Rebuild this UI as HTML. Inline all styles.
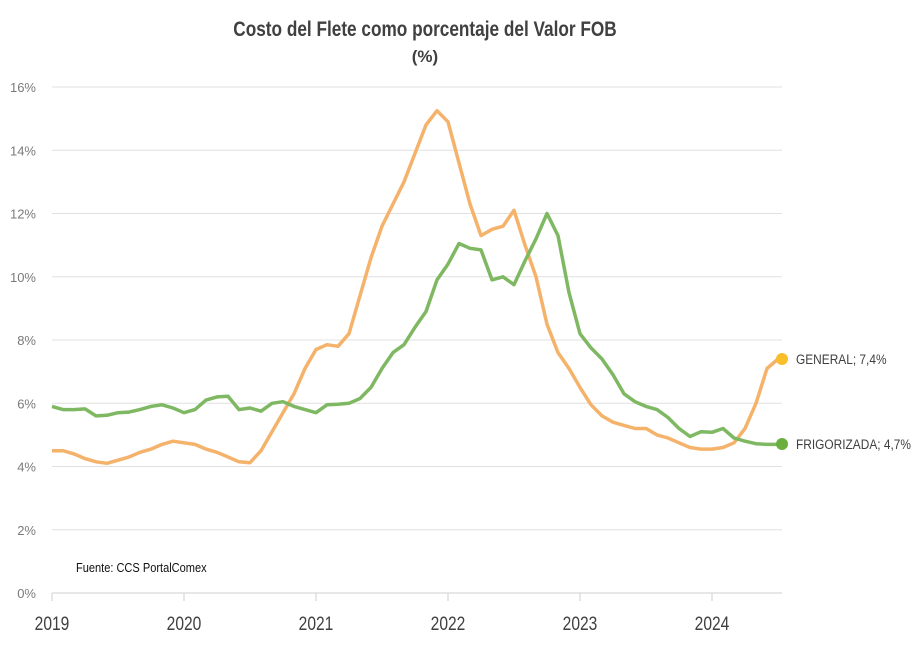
<!DOCTYPE html>
<html><head><meta charset="utf-8"><style>
body{margin:0;background:#fff;}
svg{display:block;font-family:"Liberation Sans",sans-serif;}
</style></head><body>
<svg id="s" width="921" height="654" viewBox="0 0 921 654" xmlns="http://www.w3.org/2000/svg">
<text x="425" y="36" text-anchor="middle" font-size="21" font-weight="bold" fill="#404040" transform="translate(425 0) scale(0.82 1) translate(-425 0)">Costo del Flete como porcentaje del Valor FOB</text>
<text x="425" y="62" text-anchor="middle" font-size="17" font-weight="bold" fill="#404040">(%)</text>
<g id="grid"></g>
<text x="76" y="572" font-size="13" fill="#111" transform="translate(76 0) scale(0.85 1) translate(-76 0)">Fuente: CCS PortalComex</text>
<polyline id="go" fill="none" stroke="#F4B26B" stroke-width="3.5" stroke-linejoin="round"/>
<polyline id="gg" fill="none" stroke="#7FB862" stroke-width="3.5" stroke-linejoin="round"/>
<circle cx="782" cy="359" r="6" fill="#F9BE2A"/>
<circle cx="782" cy="444" r="6" fill="#6AAF3D"/>
<text x="796" y="364" font-size="14" fill="#404040" transform="translate(796 0) scale(0.85 1) translate(-796 0)">GENERAL; 7,4%</text>
<text x="796" y="449" font-size="14" fill="#404040" transform="translate(796 0) scale(0.85 1) translate(-796 0)">FRIGORIZADA; 4,7%</text>
</svg>
<script>
var o=[4.5,4.5,4.4,4.25,4.15,4.1,4.2,4.3,4.45,4.55,4.7,4.8,4.75,4.7,4.55,4.45,4.3,4.15,4.12,4.5,5.1,5.7,6.3,7.1,7.7,7.85,7.8,8.2,9.4,10.6,11.6,12.3,13.0,13.9,14.8,15.25,14.9,13.6,12.3,11.3,11.5,11.6,12.1,11.0,10.0,8.5,7.6,7.1,6.5,5.95,5.6,5.4,5.3,5.2,5.2,5.0,4.9,4.75,4.6,4.55,4.55,4.6,4.75,5.2,6.0,7.1,7.4];
var g=[5.9,5.8,5.8,5.82,5.6,5.62,5.7,5.72,5.8,5.9,5.95,5.85,5.7,5.8,6.1,6.2,6.22,5.8,5.85,5.75,6.0,6.05,5.9,5.8,5.7,5.95,5.97,6.0,6.15,6.5,7.1,7.6,7.85,8.4,8.9,9.9,10.4,11.05,10.9,10.85,9.9,10.0,9.75,10.5,11.2,12.0,11.3,9.5,8.2,7.75,7.4,6.9,6.3,6.05,5.9,5.8,5.55,5.2,4.95,5.1,5.08,5.2,4.9,4.8,4.72,4.7,4.7];
function X(i){return 52+i*11;}function Y(v){return 593-v*31.625;}
function pts(a){return a.map(function(v,i){return X(i).toFixed(1)+","+Y(v).toFixed(1)}).join(" ");}
document.getElementById("go").setAttribute("points",pts(o));
document.getElementById("gg").setAttribute("points",pts(g));
var h="";
for(var k=0;k<=8;k++){var y=Y(k*2);
 h+='<line x1="52" x2="782" y1="'+y+'" y2="'+y+'" stroke="'+(k==0?"#cfcfcf":"#e0e0e0")+'" stroke-width="1"/>';
 h+='<text x="36" y="'+(y+5)+'" text-anchor="end" font-size="13" fill="#7a7a7a">'+(k*2)+'%</text>';}
for(var j=0;j<6;j++){var x=52+j*132;
 h+='<line x1="'+x+'" x2="'+x+'" y1="593" y2="601" stroke="#cfcfcf"/>';
 h+='<text x="'+x+'" y="630" text-anchor="middle" font-size="19" fill="#404040" transform="translate('+x+' 0) scale(0.82 1) translate('+(-x)+' 0)">'+(2019+j)+'</text>';}
document.getElementById("grid").innerHTML=h;
</script>
</body></html>
